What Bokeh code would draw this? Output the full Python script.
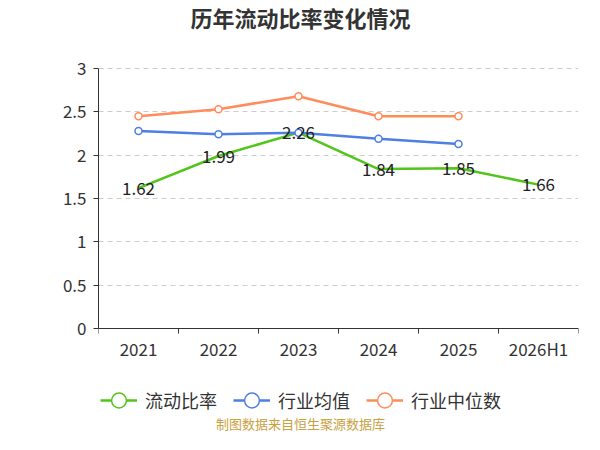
from bokeh.plotting import figure
from bokeh.models import (Range1d, FixedTicker, NumeralTickFormatter, Legend, LegendItem,
                          ColumnDataSource, LabelSet, Label)
from bokeh.core.properties import value
from bokeh.embed import file_html
from bokeh.resources import INLINE

categories = ["2021", "2022", "2023", "2024", "2025", "2026H1"]
current_ratio = [1.62, 1.99, 2.26, 1.84, 1.85, 1.66]
industry_avg = [2.28, 2.24, 2.26, 2.19, 2.13]
industry_median = [2.45, 2.53, 2.68, 2.45, 2.45]
y_ticks = [0, 0.5, 1, 1.5, 2, 2.5, 3]

GREEN = "#52c41a"
BLUE = "#4e7fe2"
ORANGE = "#ff8c5a"
FONT = "Noto Sans CJK SC"

W, H = 584, 434
LEFT, RIGHT = 98, 578          # plot area horizontal extent
TOP_Y, ZERO_Y = 68, 328        # pixel rows of y=3 and y=0
ppu = (ZERO_Y - TOP_Y) / 3.0
y_start = -(H - ZERO_Y) / ppu
y_end = 3 + TOP_Y / ppu

xpos = [i + 0.5 for i in range(len(categories))]

p = figure(width=W, height=H, output_backend="svg", toolbar_location=None,
           x_range=Range1d(0, len(categories)), y_range=Range1d(y_start, y_end))
p.min_border_left = LEFT
p.min_border_right = W - RIGHT
p.min_border_top = 0
p.min_border_bottom = 0
p.outline_line_color = None
p.background_fill_color = "white"
p.border_fill_color = "white"

# x axis pinned at y = 0
xa = p.xaxis[0]
xa.fixed_location = 0
xa.bounds = (0, len(categories))
xa.ticker = FixedTicker(ticks=xpos, minor_ticks=list(range(len(categories) + 1)))
xa.major_label_overrides = {x: c for x, c in zip(xpos, categories)}
xa.major_tick_line_color = None
xa.major_tick_out = 5
xa.major_tick_in = 0
xa.minor_tick_line_color = "#333333"
xa.minor_tick_out = 5
xa.minor_tick_in = 0
xa.axis_line_color = "#333333"
xa.major_label_text_font = FONT
xa.major_label_text_font_size = "17px"
xa.major_label_text_color = "#333333"
xa.major_label_standoff = 2

ya = p.yaxis[0]
ya.bounds = (0, 3)
ya.ticker = FixedTicker(ticks=y_ticks)
ya.formatter = NumeralTickFormatter(format="0.[0]")
ya.minor_tick_line_color = None
ya.major_tick_in = 0
ya.major_tick_out = 5
ya.major_tick_line_color = "#333333"
ya.axis_line_color = "#333333"
ya.major_label_text_font = FONT
ya.major_label_text_font_size = "17px"
ya.major_label_text_color = "#333333"
ya.major_label_standoff = 7

p.xgrid.grid_line_color = None
p.ygrid.ticker = FixedTicker(ticks=y_ticks[1:])
p.ygrid.grid_line_color = "#cccccc"
p.ygrid.grid_line_dash = "5 4"

n = len(industry_avg)
r_g_line = p.line(xpos, current_ratio, line_color=GREEN, line_width=2.5)
r_b_line = p.line(xpos[:n], industry_avg, line_color=BLUE, line_width=2.5)
p.scatter(xpos[:n], industry_avg, size=7, fill_color="white", line_color=BLUE, line_width=1.5)
r_o_line = p.line(xpos[:n], industry_median, line_color=ORANGE, line_width=2.5)
p.scatter(xpos[:n], industry_median, size=7, fill_color="white", line_color=ORANGE, line_width=1.5)

src = ColumnDataSource(dict(x=xpos, y=current_ratio, t=[f"{v:.2f}" for v in current_ratio]))
labels = LabelSet(x="x", y="y", text="t", source=src, text_align="center", text_baseline="middle",
                  text_font=value(FONT), text_font_size="17px", text_color="#222222")
p.add_layout(labels)

# legend glyph markers (hollow circles), kept outside the visible range
lg_g = p.scatter([-10], [-10], size=15, fill_color="white", line_color=GREEN, line_width=1.5)
lg_b = p.scatter([-10], [-10], size=15, fill_color="white", line_color=BLUE, line_width=1.5)
lg_o = p.scatter([-10], [-10], size=15, fill_color="white", line_color=ORANGE, line_width=1.5)

legend = Legend(items=[
    LegendItem(label="流动比率", renderers=[r_g_line, lg_g]),
    LegendItem(label="行业均值", renderers=[r_b_line, lg_b]),
    LegendItem(label="行业中位数", renderers=[r_o_line, lg_o]),
], orientation="horizontal", location=(2, H - 400 - 19))
legend.label_text_font = FONT
legend.label_text_font_size = "18px"
legend.label_text_color = "#333333"
legend.border_line_color = None
legend.background_fill_alpha = 0
legend.glyph_width = 37
legend.glyph_height = 38
legend.label_standoff = 8
legend.spacing = 16
legend.margin = 0
legend.padding = 0
p.add_layout(legend)

cx = 300 - LEFT
title = Label(x=cx, y=H - 16, x_units="screen", y_units="screen", text="历年流动比率变化情况",
              text_align="center", text_baseline="middle", text_font=FONT,
              text_font_size="22px", text_font_style="bold", text_color="#333333")
p.add_layout(title)

foot = Label(x=cx, y=H - 423, x_units="screen", y_units="screen", text="制图数据来自恒生聚源数据库",
             text_align="center", text_baseline="middle", text_font=FONT,
             text_font_size="13px", text_color="#c9a13f")
p.add_layout(foot)

open("out.html", "w").write(file_html(p, INLINE))
